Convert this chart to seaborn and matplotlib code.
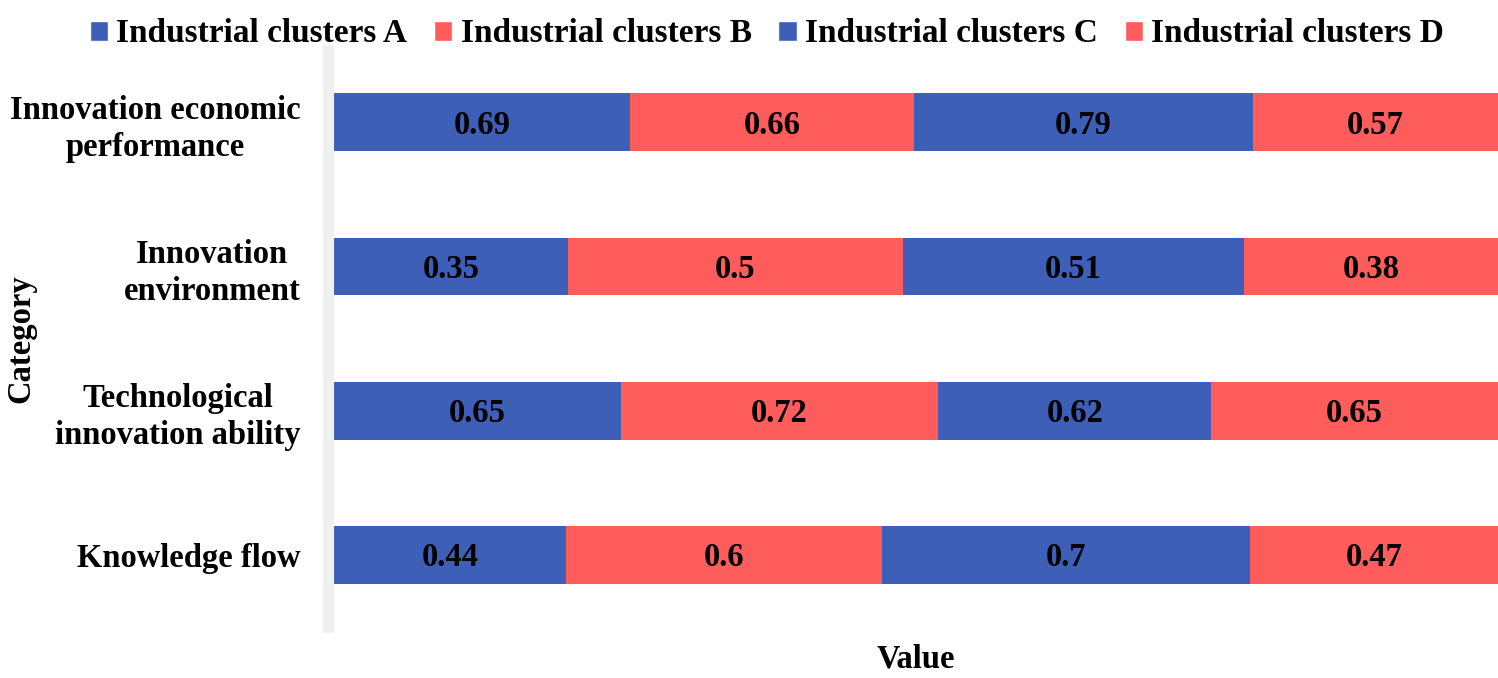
import matplotlib
matplotlib.use("Agg")
import matplotlib.pyplot as plt
import pandas as pd
import seaborn as sns
from matplotlib.patches import Patch

# data
categories = ["Innovation economic\nperformance", "Innovation\nenvironment",
              "Technological\ninnovation ability", "Knowledge flow"]
clusters = ["Industrial clusters A", "Industrial clusters B",
            "Industrial clusters C", "Industrial clusters D"]
cluster_a = [0.69, 0.35, 0.65, 0.44]
cluster_b = [0.66, 0.50, 0.72, 0.60]
cluster_c = [0.79, 0.51, 0.62, 0.70]
cluster_d = [0.57, 0.38, 0.65, 0.47]

blue = "#3D5FB7"
red = "#FF5C5C"
colors = [blue, red, blue, red]

sns.set_style("white")
plt.rcParams["font.family"] = ["Liberation Serif", "DejaVu Serif"]
plt.rcParams["font.weight"] = "bold"
plt.rcParams["text.color"] = "black"
plt.rcParams["axes.labelcolor"] = "black"
plt.rcParams["ytick.color"] = "black"

df = pd.DataFrame({"Category": categories, clusters[0]: cluster_a, clusters[1]: cluster_b,
                   clusters[2]: cluster_c, clusters[3]: cluster_d})
vals = df[clusters]
share = vals.div(vals.sum(axis=1), axis=0)
cum = share.cumsum(axis=1)

fig = plt.figure(figsize=(14.98, 6.78), dpi=100)
ax = fig.add_axes([0.223, 0.075, 0.777, 0.851])

# draw cumulative bars from the last layer to the first so they stack
for i in range(len(clusters) - 1, -1, -1):
    sns.barplot(x=cum[clusters[i]], y=df["Category"], color=colors[i], width=0.4,
                orient="h", ax=ax, saturation=1, linewidth=0)

# value labels in the middle of each segment
for i, c in enumerate(clusters):
    mids = cum[c] - share[c] / 2
    for j in range(len(categories)):
        ax.text(mids.iloc[j], j + 0.02, f"{vals[c].iloc[j]:g}", ha="center", va="center",
                fontsize=23.5, fontweight="bold", color="black")

for s in ["top", "right", "bottom"]:
    ax.spines[s].set_visible(False)
ax.spines["left"].set_color("#F0F0F0")
ax.spines["left"].set_linewidth(8)
ax.spines["left"].set_position(("outward", 4))

ax.set_xlim(0, 1)
ax.set_xticks([])
ax.set_xlabel("Value", fontsize=23.5, fontweight="bold", labelpad=12)
ax.set_ylabel("")
ax.tick_params(axis="y", length=0, pad=20)
ax.set_yticks(range(len(categories)))
ax.set_yticklabels(categories, fontsize=23.5, fontweight="bold", multialignment="center",
                   linespacing=1.25)
fig.text(0.014, 0.5, "Category", rotation=90, ha="center", va="center",
         fontsize=23.5, fontweight="bold")

handles = [Patch(facecolor=colors[i], label=clusters[i]) for i in range(4)]
fig.legend(handles=handles, loc="upper center", bbox_to_anchor=(0.512, 1.017), ncol=4,
           frameon=False, handlelength=0.55, handleheight=0.55,
           handletextpad=0.25, columnspacing=0.8, prop={"size": 24, "weight": "bold"})

fig.savefig("out.png", dpi=100)
